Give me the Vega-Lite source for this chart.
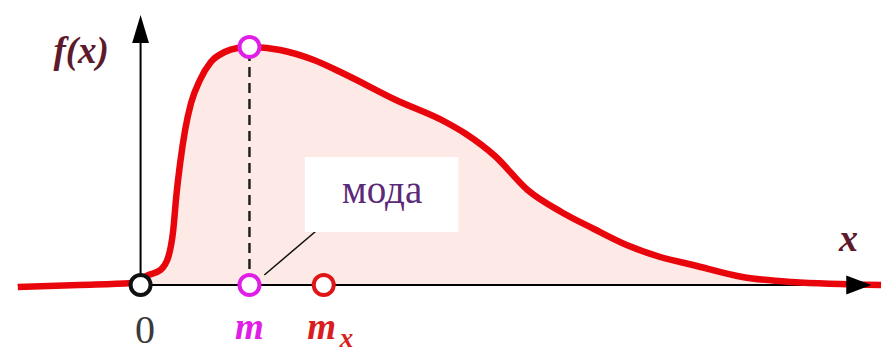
{
  "$schema": "https://vega.github.io/schema/vega-lite/v6.json",
  "width": 895,
  "height": 353,
  "autosize": {"type": "fit", "contains": "padding"},
  "padding": 0,
  "background": "white",
  "config": {"view": {"stroke": null}, "text": {"font": "Liberation Serif"}},
  "datasets": {
    "density": [
      {"x": -1.24, "y": -0.004},
      {"x": -0.62, "y": 0.0},
      {"x": -0.09, "y": 0.004},
      {"x": 0.08, "y": 0.02},
      {"x": 0.2, "y": 0.03},
      {"x": 0.28, "y": 0.056},
      {"x": 0.33, "y": 0.11},
      {"x": 0.36, "y": 0.176},
      {"x": 0.4, "y": 0.244},
      {"x": 0.45, "y": 0.31},
      {"x": 0.51, "y": 0.364},
      {"x": 0.6, "y": 0.41},
      {"x": 0.71, "y": 0.446},
      {"x": 0.85, "y": 0.466},
      {"x": 0.98, "y": 0.474},
      {"x": 1.1, "y": 0.476},
      {"x": 1.41, "y": 0.47},
      {"x": 1.75, "y": 0.45},
      {"x": 2.08, "y": 0.42},
      {"x": 2.58, "y": 0.37},
      {"x": 3.08, "y": 0.326},
      {"x": 3.28, "y": 0.303},
      {"x": 3.58, "y": 0.258},
      {"x": 3.91, "y": 0.19},
      {"x": 4.25, "y": 0.146},
      {"x": 4.58, "y": 0.112},
      {"x": 4.91, "y": 0.08},
      {"x": 5.25, "y": 0.056},
      {"x": 5.58, "y": 0.04},
      {"x": 6.08, "y": 0.016},
      {"x": 6.58, "y": 0.006},
      {"x": 7.48, "y": 0.0}
    ],
    "axes": [
      {"name": "x", "x": -1.24, "y": 0, "x2": 7.25, "y2": 0},
      {"name": "y", "x": 0, "y": 0, "x2": 0, "y2": 0.5}
    ],
    "arrows": [
      {"name": "x", "x": 7.255, "y": 0, "shape": "M1,0L-1,-0.76L-1,0.76Z", "size": 625},
      {"name": "y", "x": 0, "y": 0.512, "shape": "M0,-1L0.6,1L-0.6,1Z", "size": 784}
    ],
    "modeLine": [{"x": 1.1, "y": 0, "x2": 1.1, "y2": 0.476}],
    "leader": [{"x": 1.25, "y": 0.02, "x2": 1.88, "y2": 0.126}],
    "box": [{"x": 1.66, "y": 0.106, "x2": 3.21, "y2": 0.256, "label": "мода", "tx": 2.44, "ty": 0.164}],
    "points": [
      {"name": "0", "x": 0, "y": 0, "color": "#111111"},
      {"name": "m", "x": 1.1, "y": 0, "color": "#e01ee6"},
      {"name": "m peak", "x": 1.1, "y": 0.476, "color": "#e01ee6"},
      {"name": "mx", "x": 1.85, "y": 0, "color": "#e01515"}
    ],
    "italicLabels": [
      {"label": "f(x)", "x": -0.6, "y": 0.445, "size": 37, "color": "#5c1a2a"},
      {"label": "x", "x": 7.15, "y": 0.068, "size": 38, "color": "#5c1a2a"},
      {"label": "m", "x": 1.1, "y": -0.108, "size": 37, "color": "#e01ee6"},
      {"label": "m", "x": 1.83, "y": -0.108, "size": 37, "color": "#d81e1e"},
      {"label": "x", "x": 2.08, "y": -0.124, "size": 27, "color": "#d81e1e"}
    ],
    "origin": [{"label": "0", "x": 0.045, "y": -0.116}]
  },
  "layer": [
    {
      "data": {"name": "density"},
      "mark": {"type": "area", "interpolate": "monotone", "color": "#fde9e6"},
      "encoding": {
        "x": {"field": "x", "type": "quantitative", "scale": {"domain": [-1.42, 7.53], "nice": false, "zero": false}, "axis": null},
        "y": {"field": "y", "type": "quantitative", "scale": {"domain": [-0.136, 0.57], "nice": false, "zero": false}, "axis": null},
        "y2": {"datum": 0}
      }
    },
    {
      "data": {"name": "axes"},
      "mark": {"type": "rule", "color": "#000000", "strokeWidth": 2},
      "encoding": {
        "x": {"field": "x", "type": "quantitative", "scale": {"domain": [-1.42, 7.53], "nice": false, "zero": false}, "axis": null},
        "y": {"field": "y", "type": "quantitative", "scale": {"domain": [-0.136, 0.57], "nice": false, "zero": false}, "axis": null},
        "x2": {"field": "x2"},
        "y2": {"field": "y2"}
      }
    },
    {
      "data": {"name": "modeLine"},
      "mark": {"type": "rule", "color": "#222222", "strokeWidth": 2.5, "strokeDash": [10, 6]},
      "encoding": {
        "x": {"field": "x", "type": "quantitative", "scale": {"domain": [-1.42, 7.53], "nice": false, "zero": false}, "axis": null},
        "y": {"field": "y", "type": "quantitative", "scale": {"domain": [-0.136, 0.57], "nice": false, "zero": false}, "axis": null},
        "x2": {"field": "x2"},
        "y2": {"field": "y2"}
      }
    },
    {
      "data": {"name": "leader"},
      "mark": {"type": "rule", "color": "#111111", "strokeWidth": 1.5},
      "encoding": {
        "x": {"field": "x", "type": "quantitative", "scale": {"domain": [-1.42, 7.53], "nice": false, "zero": false}, "axis": null},
        "y": {"field": "y", "type": "quantitative", "scale": {"domain": [-0.136, 0.57], "nice": false, "zero": false}, "axis": null},
        "x2": {"field": "x2"},
        "y2": {"field": "y2"}
      }
    },
    {
      "data": {"name": "box"},
      "mark": {"type": "rect", "color": "#ffffff"},
      "encoding": {
        "x": {"field": "x", "type": "quantitative", "scale": {"domain": [-1.42, 7.53], "nice": false, "zero": false}, "axis": null},
        "y": {"field": "y", "type": "quantitative", "scale": {"domain": [-0.136, 0.57], "nice": false, "zero": false}, "axis": null},
        "x2": {"field": "x2"},
        "y2": {"field": "y2"}
      }
    },
    {
      "data": {"name": "box"},
      "mark": {"type": "text", "fontSize": 39, "color": "#5b2a78", "align": "center", "baseline": "alphabetic"},
      "encoding": {
        "x": {"field": "tx", "type": "quantitative", "scale": {"domain": [-1.42, 7.53], "nice": false, "zero": false}, "axis": null},
        "y": {"field": "ty", "type": "quantitative", "scale": {"domain": [-0.136, 0.57], "nice": false, "zero": false}, "axis": null},
        "text": {"field": "label"}
      }
    },
    {
      "data": {"name": "density"},
      "mark": {"type": "line", "interpolate": "monotone", "color": "#e8060c", "strokeWidth": 6.5, "strokeCap": "butt"},
      "encoding": {
        "x": {"field": "x", "type": "quantitative", "scale": {"domain": [-1.42, 7.53], "nice": false, "zero": false}, "axis": null},
        "y": {"field": "y", "type": "quantitative", "scale": {"domain": [-0.136, 0.57], "nice": false, "zero": false}, "axis": null}
      }
    },
    {
      "data": {"name": "arrows"},
      "mark": {"type": "point", "filled": true, "color": "#000000", "opacity": 1},
      "encoding": {
        "x": {"field": "x", "type": "quantitative", "scale": {"domain": [-1.42, 7.53], "nice": false, "zero": false}, "axis": null},
        "y": {"field": "y", "type": "quantitative", "scale": {"domain": [-0.136, 0.57], "nice": false, "zero": false}, "axis": null},
        "shape": {"field": "shape", "type": "nominal", "scale": null},
        "size": {"field": "size", "type": "quantitative", "scale": null}
      }
    },
    {
      "data": {"name": "points"},
      "mark": {"type": "point", "shape": "circle", "filled": false, "fill": "#ffffff", "fillOpacity": 1, "opacity": 1, "size": 400, "strokeWidth": 4},
      "encoding": {
        "x": {"field": "x", "type": "quantitative", "scale": {"domain": [-1.42, 7.53], "nice": false, "zero": false}, "axis": null},
        "y": {"field": "y", "type": "quantitative", "scale": {"domain": [-0.136, 0.57], "nice": false, "zero": false}, "axis": null},
        "stroke": {"field": "color", "type": "nominal", "scale": null}
      }
    },
    {
      "data": {"name": "italicLabels"},
      "mark": {"type": "text", "align": "center", "baseline": "alphabetic", "fontStyle": "italic", "fontWeight": "bold"},
      "encoding": {
        "x": {"field": "x", "type": "quantitative", "scale": {"domain": [-1.42, 7.53], "nice": false, "zero": false}, "axis": null},
        "y": {"field": "y", "type": "quantitative", "scale": {"domain": [-0.136, 0.57], "nice": false, "zero": false}, "axis": null},
        "text": {"field": "label"},
        "size": {"field": "size", "type": "quantitative", "scale": null},
        "color": {"field": "color", "type": "nominal", "scale": null}
      }
    },
    {
      "data": {"name": "origin"},
      "mark": {"type": "text", "align": "center", "baseline": "alphabetic", "fontSize": 40, "color": "#3a3a3a"},
      "encoding": {
        "x": {"field": "x", "type": "quantitative", "scale": {"domain": [-1.42, 7.53], "nice": false, "zero": false}, "axis": null},
        "y": {"field": "y", "type": "quantitative", "scale": {"domain": [-0.136, 0.57], "nice": false, "zero": false}, "axis": null},
        "text": {"field": "label"}
      }
    }
  ]
}
